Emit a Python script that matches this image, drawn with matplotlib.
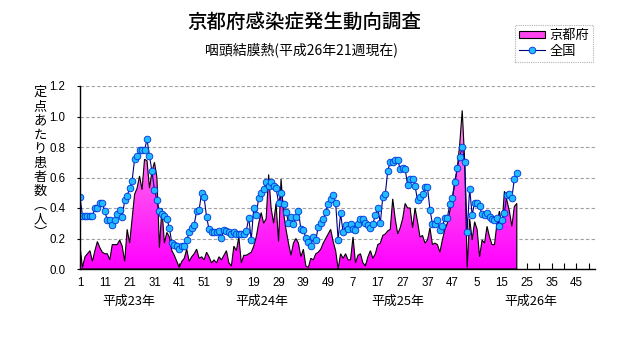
import numpy as np
import matplotlib
matplotlib.use('Agg')
import matplotlib.pyplot as plt
from matplotlib.patches import Polygon, Patch
from matplotlib.lines import Line2D
from matplotlib.colors import LinearSegmentedColormap

plt.rcParams['font.family'] = ['Noto Sans CJK JP', 'DejaVu Sans']

# ---------------- data ----------------
title = '京都府感染症発生動向調査'
subtitle = '咽頭結膜熱(平成26年21週現在)'
ylabel_chars = ['定', '点', 'あ', 'た', 'り', '患', '者', '数', '︵', '人', '︶']
series_names = ['京都府', '全国']
year_labels = ['平成23年', '平成24年', '平成25年', '平成26年']
xtick_labels = ['1', '11', '21', '31', '41', '51', '9', '19', '29', '39', '49',
                '7', '17', '27', '37', '47', '5', '15', '25', '35', '45']
ytick_values = [0.0, 0.2, 0.4, 0.6, 0.8, 1.0, 1.2]
ytick_labels = ['0.0', '0.2', '0.4', '0.6', '0.8', '1.0', '1.2']

kyoto_h23 = [0.15, 0.01, 0.08, 0.10, 0.12, 0.05, 0.12, 0.18, 0.14, 0.11,
             0.10, 0.10, 0.06, 0.16, 0.16, 0.16, 0.19, 0.15, 0.05, 0.26,
             0.17, 0.33, 0.49, 0.53, 0.61, 0.52, 0.72, 0.71, 0.53, 0.64,
             0.70, 0.60, 0.14, 0.40, 0.17, 0.24, 0.21, 0.12, 0.09, 0.05,
             0.01, 0.05, 0.07, 0.13, 0.05, 0.08, 0.10, 0.13, 0.07, 0.08,
             0.06, 0.11]
kyoto_h24 = [0.08, 0.04, 0.06, 0.04, 0.08, 0.06, 0.09, 0.12, 0.04, 0.02,
             0.15, 0.12, 0.21, 0.04, 0.09, 0.09, 0.10, 0.11, 0.15, 0.21,
             0.30, 0.37, 0.30, 0.33, 0.62, 0.40, 0.30, 0.43, 0.18, 0.59,
             0.37, 0.26, 0.17, 0.09, 0.17, 0.20, 0.17, 0.08, 0.13, 0.02,
             0.01, 0.07, 0.06, 0.10, 0.11, 0.13, 0.17, 0.20, 0.23, 0.26,
             0.18, 0.12]
kyoto_h25 = [0.00, 0.10, 0.07, 0.10, 0.06, 0.06, 0.21, 0.04, 0.09, 0.10,
             0.04, 0.02, 0.08, 0.12, 0.07, 0.10, 0.16, 0.17, 0.22, 0.23,
             0.25, 0.26, 0.46, 0.33, 0.23, 0.27, 0.33, 0.43, 0.40, 0.40,
             0.27, 0.40, 0.31, 0.21, 0.22, 0.17, 0.19, 0.27, 0.16, 0.17,
             0.16, 0.11, 0.19, 0.26, 0.30, 0.38, 0.46, 0.56, 0.66, 0.82,
             1.04, 0.71]
kyoto_h26 = [0.01, 0.33, 0.19, 0.31, 0.26, 0.08, 0.19, 0.17, 0.28, 0.21,
             0.16, 0.16, 0.30, 0.38, 0.28, 0.51, 0.45, 0.38, 0.28, 0.41,
             0.43]

national_h23 = [0.47, 0.35, 0.35, 0.35, 0.35, 0.35, 0.40, 0.40, 0.43, 0.43,
                0.38, 0.32, 0.32, 0.29, 0.32, 0.36, 0.39, 0.34, 0.45, 0.48,
                0.53, 0.58, 0.72, 0.74, 0.78, 0.78, 0.78, 0.85, 0.74, 0.64,
                0.52, 0.45, 0.38, 0.36, 0.35, 0.33, 0.27, 0.17, 0.16, 0.15,
                0.13, 0.15, 0.15, 0.19, 0.24, 0.27, 0.29, 0.38, 0.39, 0.50,
                0.47, 0.34]
national_h24 = [0.26, 0.24, 0.24, 0.245, 0.25, 0.205, 0.255, 0.25, 0.24, 0.23,
                0.24, 0.23, 0.23, 0.23, 0.23, 0.25, 0.336, 0.19, 0.40, 0.354,
                0.468, 0.496, 0.525, 0.568, 0.544, 0.573, 0.544, 0.53, 0.435, 0.496,
                0.426, 0.376, 0.304, 0.34, 0.293, 0.343, 0.382, 0.26, 0.256, 0.205,
                0.18, 0.153, 0.21, 0.19, 0.277, 0.30, 0.326, 0.376, 0.426, 0.459,
                0.485, 0.435]
national_h25 = [0.19, 0.365, 0.24, 0.29, 0.26, 0.295, 0.26, 0.256, 0.295, 0.328,
                0.328, 0.30, 0.29, 0.27, 0.295, 0.354, 0.40, 0.30, 0.474, 0.49,
                0.645, 0.70, 0.70, 0.715, 0.715, 0.656, 0.66, 0.656, 0.55, 0.59,
                0.59, 0.545, 0.45, 0.47, 0.49, 0.535, 0.535, 0.39, 0.295, 0.295,
                0.32, 0.256, 0.28, 0.336, 0.336, 0.426, 0.468, 0.573, 0.662, 0.736,
                0.80, 0.704]
national_h26 = [0.245, 0.527, 0.354, 0.435, 0.435, 0.41, 0.36, 0.354, 0.37, 0.343,
                0.326, 0.32, 0.336, 0.28, 0.32, 0.37, 0.485, 0.49, 0.468, 0.59,
                0.627]

kyoto = np.array(kyoto_h23 + kyoto_h24 + kyoto_h25 + kyoto_h26)
national = np.array(national_h23 + national_h24 + national_h25 + national_h26)
weeks = np.arange(1, len(kyoto) + 1)
n_weeks_total = 52 * 4

# ---------------- figure ----------------
W, H = 631, 347
fig = plt.figure(figsize=(W / 100, H / 100), dpi=100)
fig.patch.set_facecolor('white')
ax = fig.add_axes([80 / W, 1 - 269 / H, 515 / W, 183 / H])

# Kyoto: gradient area with black outline
verts = [(weeks[0], 0.0)] + list(zip(weeks, kyoto)) + [(weeks[-1], 0.0)]
poly = Polygon(verts, closed=True, facecolor='none', edgecolor='black',
               linewidth=0.8, zorder=3)
ax.add_patch(poly)
cmap = LinearSegmentedColormap.from_list('pinkgrad', ['#FF00FF', '#FF55F0', '#FFA8F3'])
grad = np.linspace(0, 1, 256).reshape(-1, 1)
im = ax.imshow(grad, extent=[weeks[0], weeks[-1], 0, 1.2], origin='lower',
               aspect='auto', cmap=cmap, zorder=2, interpolation='bilinear')
im.set_clip_path(poly)

# National: line with markers
ax.plot(weeks, national, color='#000080', lw=0.8, marker='o', ms=4.8,
        mfc='#22BBFF', mec='#0030DD', mew=0.6, zorder=4)

ax.set_xlim(1, n_weeks_total + 0.5)
ax.set_ylim(0, 1.2)

# grid
ax.set_yticks(ytick_values)
ax.set_yticklabels(ytick_labels)
ax.yaxis.grid(True, color='#A0A0A0', linestyle=(0, (3, 2)), linewidth=0.8, zorder=0)
ax.set_axisbelow(True)

ax.set_xticks(np.arange(1, n_weeks_total + 1, 10))
ax.set_xticklabels(xtick_labels)
ax.set_xticks(np.arange(6, n_weeks_total + 1, 10), minor=True)

ax.tick_params(axis='x', which='both', direction='in', length=4, width=0.8,
               pad=6, labelsize=8.3, colors='black')
ax.tick_params(axis='y', which='major', direction='out', length=2.5, width=0.8,
               pad=8, labelsize=8.3)
for lab in ax.get_xticklabels() + ax.get_yticklabels():
    lab.set_fontfamily(['Liberation Sans Narrow', 'Liberation Sans', 'DejaVu Sans'])

for s in ['top', 'right']:
    ax.spines[s].set_visible(False)
for s in ['left', 'bottom']:
    ax.spines[s].set_linewidth(1.0)
    ax.spines[s].set_color('black')
    ax.spines[s].set_zorder(5)

# year labels under the axis
year_x_px = [129, 262, 398, 531]
for lab, xp in zip(year_labels, year_x_px):
    fig.text(xp / W, 1 - 301 / H, lab, ha='center', va='center', fontsize=9.3)

# titles
fig.text(304 / W, 1 - 22 / H, title, ha='center', va='center', fontsize=14, weight='medium')
fig.text(301 / W, 1 - 50 / H, subtitle, ha='center', va='center', fontsize=10)

# vertical y label
for i, ch in enumerate(ylabel_chars):
    fig.text(40 / W, 1 - (92.7 + i * 14.1) / H, ch, ha='center', va='center', fontsize=9.5)

# legend
handles = [Patch(facecolor='#FF44F0', edgecolor='black', linewidth=0.8),
           Line2D([], [], color='#000080', lw=0.8, marker='o', ms=4.8,
                  mfc='#22BBFF', mec='#0030DD', mew=0.6)]
leg = fig.legend(handles, series_names, loc='upper left',
                 bbox_to_anchor=(515 / W, 1 - 25 / H), frameon=True, fancybox=False,
                 edgecolor='#A0A0A0', fontsize=9.5, handlelength=2.0, handleheight=0.45,
                 handletextpad=0.3, borderpad=0.3, labelspacing=0.2, borderaxespad=0)
leg.get_frame().set_linestyle((0, (1, 1)))
leg.get_frame().set_linewidth(0.8)

fig.savefig('out.png', dpi=100, facecolor='white')
